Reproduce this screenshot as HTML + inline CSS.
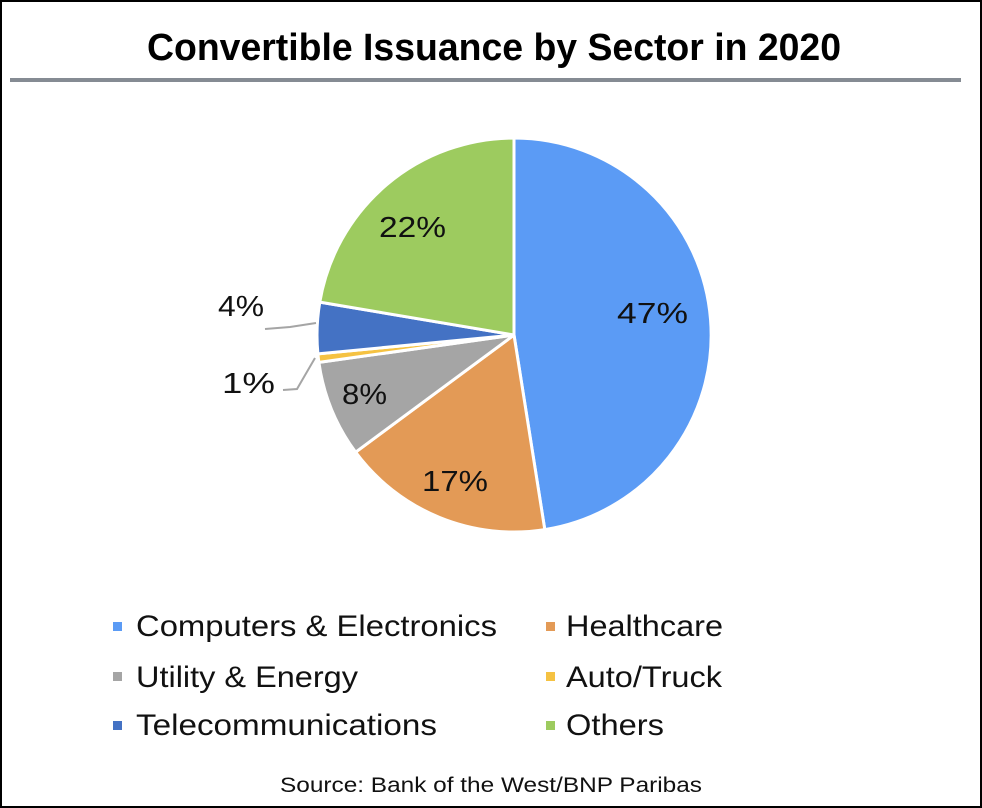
<!DOCTYPE html>
<html><head><style>
html,body{margin:0;padding:0;background:#fff}
svg{display:block}
</style></head><body>
<svg width="982" height="808" xmlns="http://www.w3.org/2000/svg" font-family="Liberation Sans, Arial, sans-serif">
<rect x="1" y="1" width="980" height="806" fill="#fff" stroke="#000" stroke-width="2"/>
<text x="147" y="60" textLength="694" lengthAdjust="spacingAndGlyphs" font-size="38" font-weight="bold" fill="#000">Convertible Issuance by Sector in 2020</text>
<rect x="10" y="78" width="951" height="4" fill="#858b93"/>
<g stroke="#fff" stroke-width="3" stroke-linejoin="round">
<path d="M514,335 L514,138 A197,197 0 0 1 544.8,529.6 Z" fill="#5b9bf5"/>
<path d="M514,335 L544.8,529.6 A197,197 0 0 1 355.6,452.2 Z" fill="#e39a56"/>
<path d="M514,335 L355.6,452.2 A197,197 0 0 1 318.9,362.4 Z" fill="#a5a5a5"/>
<path d="M514,335 L318.9,362.4 A197,197 0 0 1 317.9,353.9 Z" fill="#f5c242"/>
<path d="M514,335 L317.9,353.9 A197,197 0 0 1 319.8,302.1 Z" fill="#4472c4"/>
<path d="M514,335 L319.8,302.1 A197,197 0 0 1 514,138 Z" fill="#9dcb5f"/>
</g>
<g font-size="29" fill="#111" lengthAdjust="spacingAndGlyphs">
<text x="617" y="323" textLength="71" lengthAdjust="spacingAndGlyphs">47%</text>
<text x="379" y="237" textLength="67" lengthAdjust="spacingAndGlyphs">22%</text>
<text x="422" y="491" textLength="66" lengthAdjust="spacingAndGlyphs">17%</text>
<text x="342" y="404" textLength="45" lengthAdjust="spacingAndGlyphs">8%</text>
<text x="218" y="316" textLength="46" lengthAdjust="spacingAndGlyphs">4%</text>
<text x="222" y="393" textLength="53" lengthAdjust="spacingAndGlyphs">1%</text>
</g>
<polyline points="265,329 290,327 316,323" fill="none" stroke="#a5a5a5" stroke-width="2"/>
<polyline points="283,390 297,389 315,358" fill="none" stroke="#a5a5a5" stroke-width="2"/>
<g font-size="30" fill="#111">
<rect x="113" y="622" width="9" height="9" fill="#5b9bf5"/><text x="136" y="636" textLength="361" lengthAdjust="spacingAndGlyphs">Computers &amp; Electronics</text>
<rect x="546" y="622" width="9" height="9" fill="#e39a56"/><text x="566" y="636" textLength="157" lengthAdjust="spacingAndGlyphs">Healthcare</text>
<rect x="113" y="672" width="9" height="9" fill="#a5a5a5"/><text x="136" y="687" textLength="222" lengthAdjust="spacingAndGlyphs">Utility &amp; Energy</text>
<rect x="546" y="672" width="9" height="9" fill="#f5c242"/><text x="566" y="687" textLength="156" lengthAdjust="spacingAndGlyphs">Auto/Truck</text>
<rect x="113" y="721" width="9" height="9" fill="#4472c4"/><text x="136" y="735" textLength="301" lengthAdjust="spacingAndGlyphs">Telecommunications</text>
<rect x="546" y="721" width="9" height="9" fill="#9dcb5f"/><text x="566" y="735" textLength="98" lengthAdjust="spacingAndGlyphs">Others</text>
</g>
<text x="280" y="792" textLength="422" lengthAdjust="spacingAndGlyphs" font-size="21" fill="#111">Source: Bank of the West/BNP Paribas</text>
</svg>
</body></html>
